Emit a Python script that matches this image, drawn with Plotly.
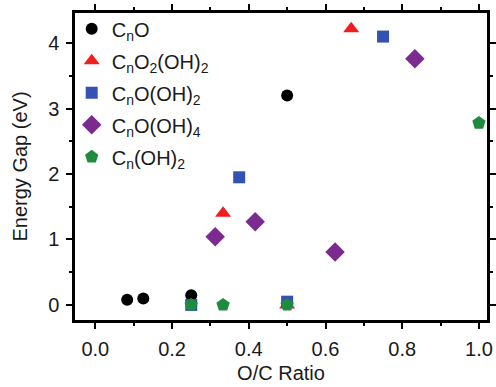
import plotly.graph_objects as go

# ---- data ----
cno_x = [0.083, 0.125, 0.25, 0.5]
cno_y = [0.08, 0.10, 0.15, 3.20]

co2oh2_x = [0.333, 0.5, 0.667]
co2oh2_y = [1.40, 0.0, 4.22]

cooh2_x = [0.25, 0.375, 0.5, 0.75]
cooh2_y = [0.0, 1.95, 0.05, 4.10]

cooh4_x = [0.3125, 0.4167, 0.625, 0.833]
cooh4_y = [1.04, 1.27, 0.81, 3.76]

coh2_x = [0.25, 0.333, 0.5, 1.0]
coh2_y = [0.0, 0.0, 0.0, 2.78]

names = ["C<sub>n</sub>O", "C<sub>n</sub>O<sub>2</sub>(OH)<sub>2</sub>",
         "C<sub>n</sub>O(OH)<sub>2</sub>", "C<sub>n</sub>O(OH)<sub>4</sub>",
         "C<sub>n</sub>(OH)<sub>2</sub>"]
colors = ["#000000", "#f01e1e", "#3452b4", "#7b2b90", "#1f8b3e"]
symbols = ["circle", "triangle-up", "square", "diamond", "pentagon"]
sizes = [12, 14, 12, 15, 14]

xs = [cno_x, co2oh2_x, cooh2_x, cooh4_x, coh2_x]
ys = [cno_y, co2oh2_y, cooh2_y, cooh4_y, coh2_y]

x_ticks = [0.0, 0.2, 0.4, 0.6, 0.8, 1.0]
x_ticklabels = ["0.0", "0.2", "0.4", "0.6", "0.8", "1.0"]
y_ticks = [0, 1, 2, 3, 4]

xr = [-0.053, 1.021]
yr = [-0.23, 4.46]

fig = go.Figure()
for i in range(5):
    fig.add_trace(go.Scatter(
        x=xs[i], y=ys[i], mode="markers", name=names[i],
        marker=dict(color=colors[i], symbol=symbols[i], size=sizes[i],
                    line=dict(width=0)),
        legendgroup=str(i),
    ))

font = "Liberation Sans, Arial, sans-serif"
axis_common = dict(showgrid=False, zeroline=False, showline=True, mirror="ticks",
                   linecolor="black", linewidth=2.5, ticks="outside",
                   tickwidth=2, ticklen=6, tickcolor="black",
                   automargin=False, ticklabelstandoff=3)

fig.update_layout(
    width=496, height=387,
    margin=dict(l=75, r=9, t=13, b=67),
    paper_bgcolor="white", plot_bgcolor="white",
    font=dict(family=font, size=20, color="#1a1a1a"),
    showlegend=True,
    legend=dict(x=-0.008, y=1.012, xanchor="left", yanchor="top",
                bgcolor="rgba(0,0,0,0)", font=dict(size=20, color="#1a1a1a"),
                traceorder="grouped", tracegroupgap=3,
                itemwidth=30),
    xaxis=dict(range=xr, tickvals=x_ticks, ticktext=x_ticklabels,
               title=dict(text="O/C Ratio", standoff=8, font=dict(size=20)),
               minor=dict(dtick=0.1, tick0=0, ticks="outside", ticklen=3,
                          tickwidth=2, tickcolor="black"),
               tickfont=dict(size=20),
               **axis_common),
    yaxis=dict(range=yr, tickvals=y_ticks,
               title=dict(text="Energy Gap (eV)", standoff=16, font=dict(size=20)),
               minor=dict(dtick=0.5, tick0=0, ticks="outside", ticklen=3,
                          tickwidth=2, tickcolor="black"),
               tickfont=dict(size=20),
               **axis_common),
)

fig.write_html("out.html", config={"displayModeBar": False},
               post_script="document.body.style.margin='0';document.body.style.padding='0';document.body.style.overflow='hidden';")
